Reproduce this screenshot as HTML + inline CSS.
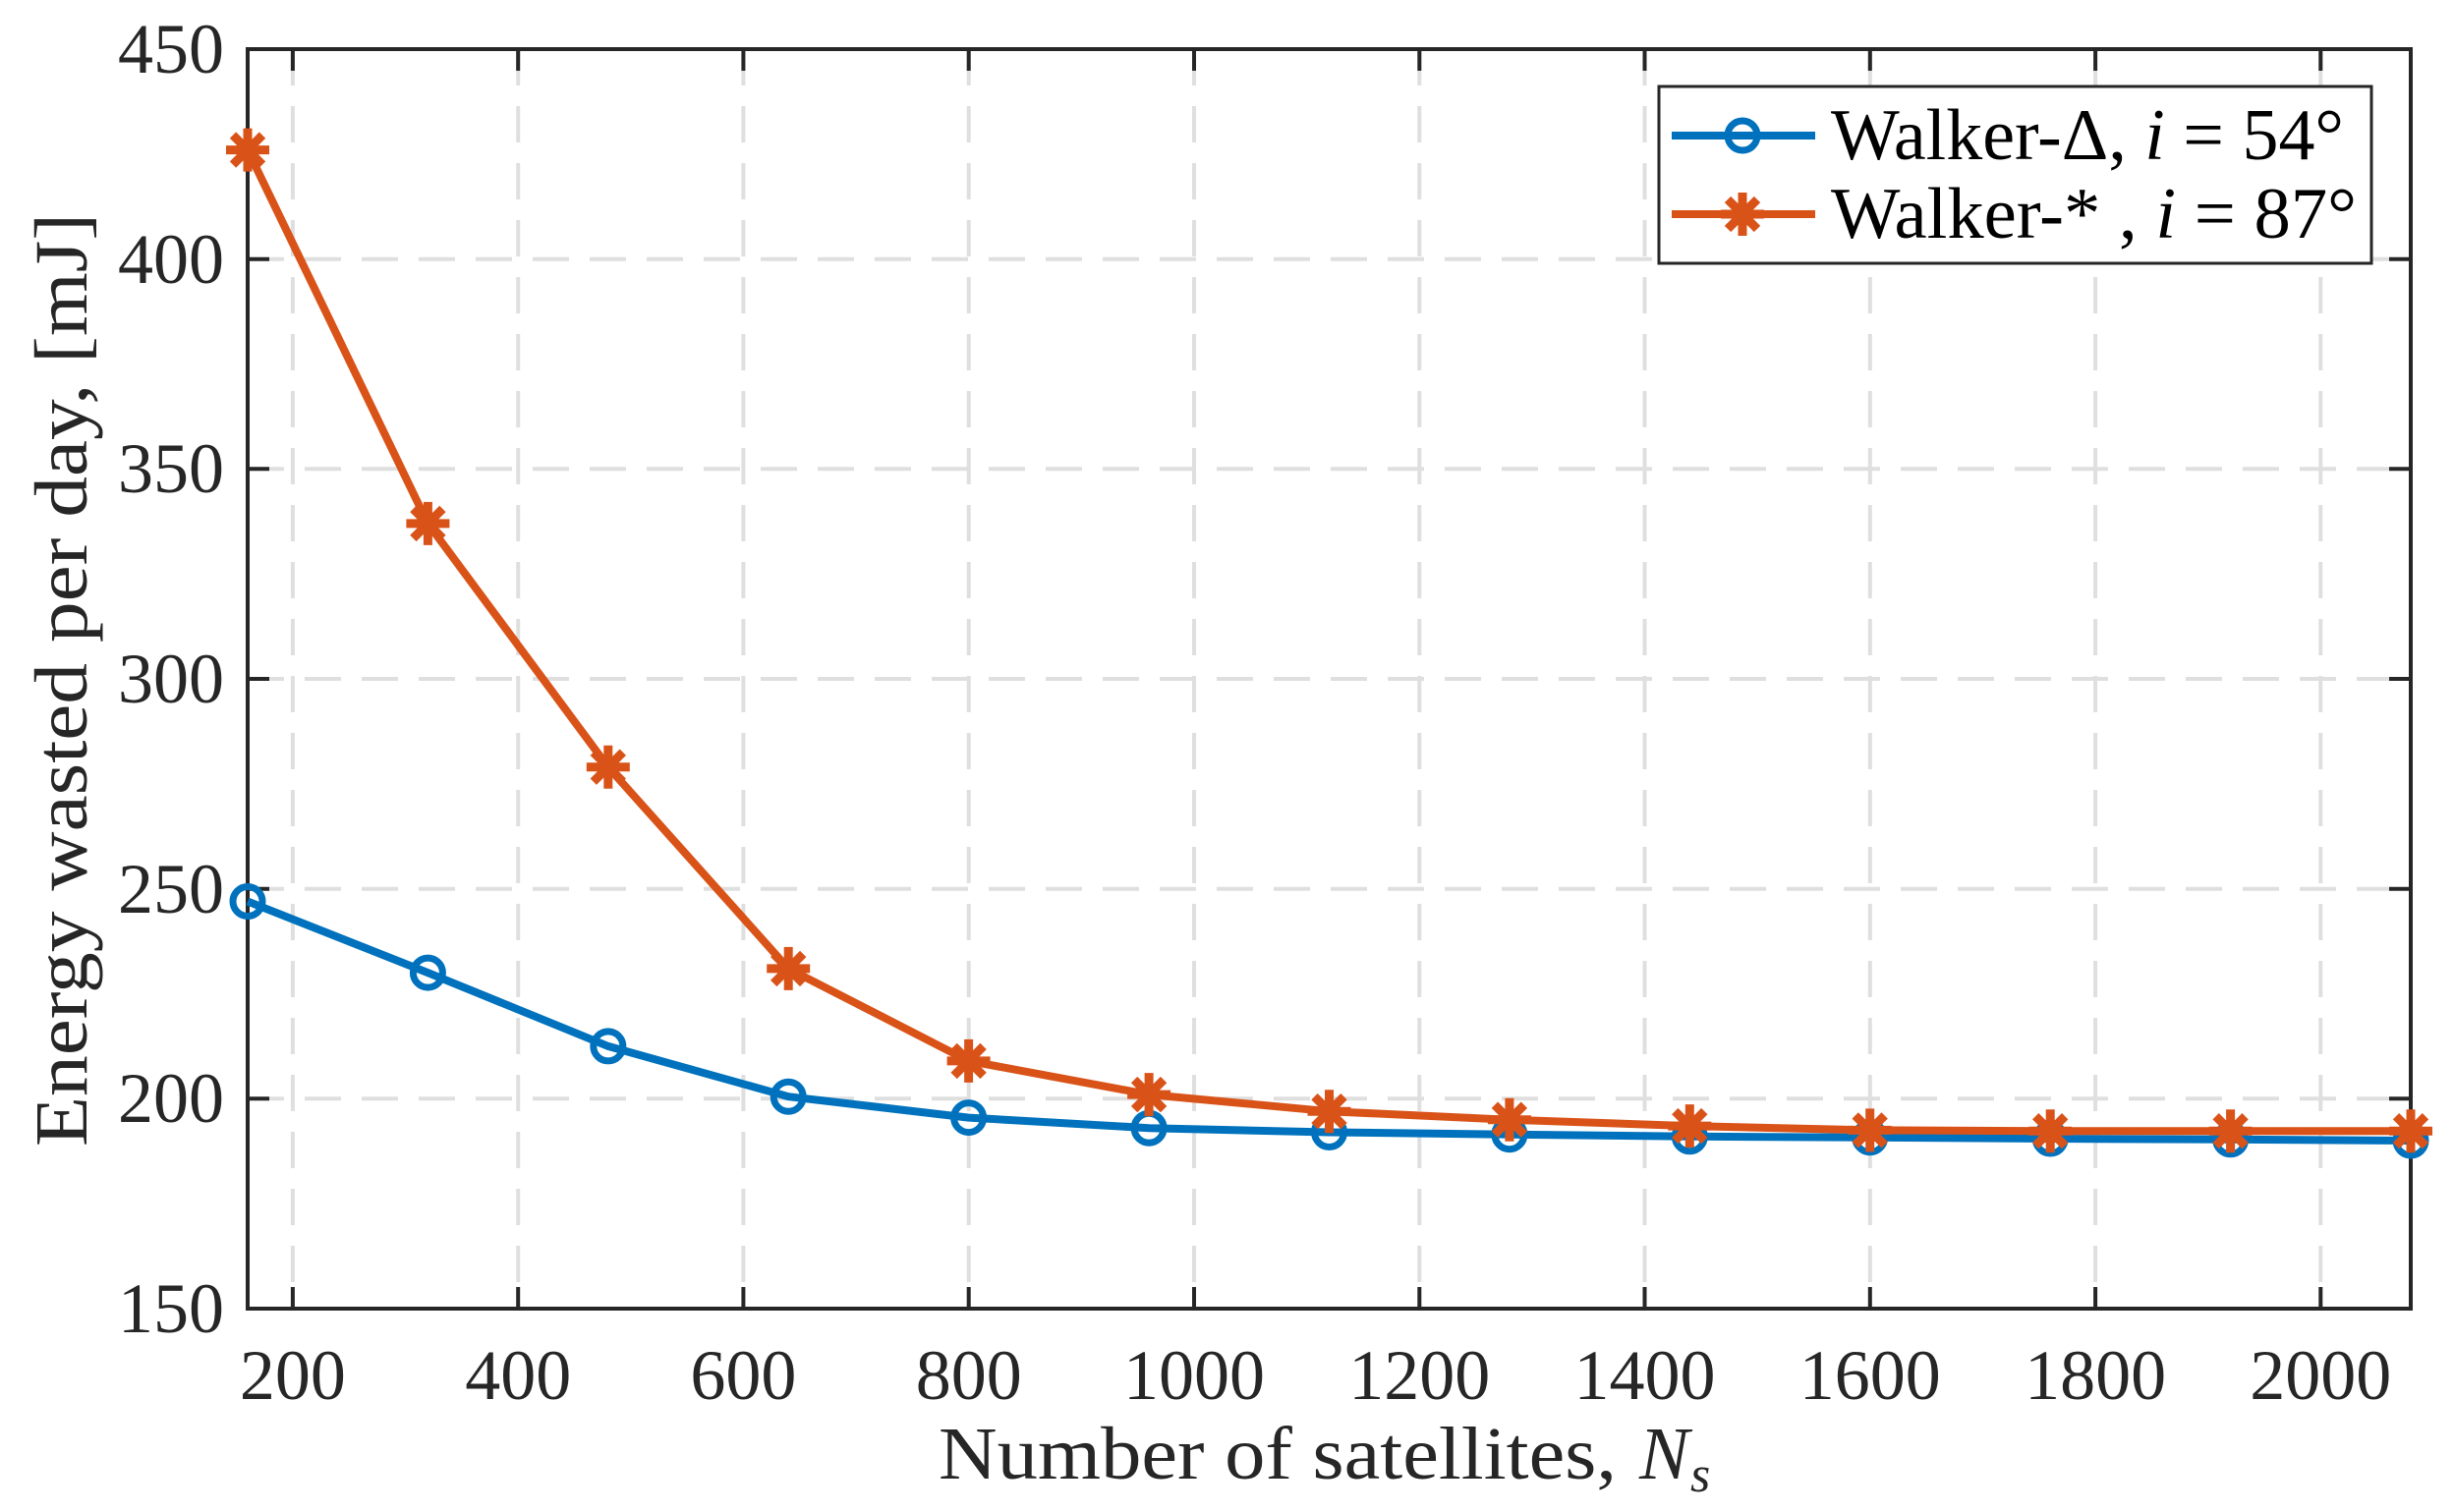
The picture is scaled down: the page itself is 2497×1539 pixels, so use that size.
<!DOCTYPE html>
<html><head><meta charset="utf-8"><style>html,body{margin:0;padding:0;background:#fff}svg{display:block}</style></head>
<body>
<svg width="2497" height="1539" viewBox="0 0 2497 1539" xmlns="http://www.w3.org/2000/svg" font-family="Liberation Serif, serif" fill="#262626">
<rect width="2497" height="1539" fill="#fff"/>
<g stroke="#dfdfdf" stroke-width="4" stroke-dasharray="37 21">
<line x1="297.9" y1="50" x2="297.9" y2="1332"/><line x1="527.2" y1="50" x2="527.2" y2="1332"/><line x1="756.4" y1="50" x2="756.4" y2="1332"/><line x1="985.7" y1="50" x2="985.7" y2="1332"/><line x1="1215" y1="50" x2="1215" y2="1332"/><line x1="1444.3" y1="50" x2="1444.3" y2="1332"/><line x1="1673.5" y1="50" x2="1673.5" y2="1332"/><line x1="1902.8" y1="50" x2="1902.8" y2="1332"/><line x1="2132.1" y1="50" x2="2132.1" y2="1332"/><line x1="2361.3" y1="50" x2="2361.3" y2="1332"/>
<line x1="252" y1="1118.3" x2="2453" y2="1118.3"/><line x1="252" y1="904.7" x2="2453" y2="904.7"/><line x1="252" y1="691" x2="2453" y2="691"/><line x1="252" y1="477.3" x2="2453" y2="477.3"/><line x1="252" y1="263.7" x2="2453" y2="263.7"/>
</g>
<g stroke="#262626" stroke-width="4">
<path d="M297.9,1332v-22M527.2,1332v-22M756.4,1332v-22M985.7,1332v-22M1215,1332v-22M1444.3,1332v-22M1673.5,1332v-22M1902.8,1332v-22M2132.1,1332v-22M2361.3,1332v-22"/>
<path d="M297.9,50v22M527.2,50v22M756.4,50v22M985.7,50v22M1215,50v22M1444.3,50v22M1673.5,50v22M1902.8,50v22M2132.1,50v22M2361.3,50v22"/>
<path d="M252,1118.3h22M252,904.7h22M252,691h22M252,477.3h22M252,263.7h22"/>
<path d="M2453,1118.3h-22M2453,904.7h-22M2453,691h-22M2453,477.3h-22M2453,263.7h-22"/>
<rect x="252" y="50" width="2201" height="1282" fill="none"/>
</g>
<g font-size="72" text-anchor="end">
<text x="228" y="1356">150</text><text x="228" y="1142">200</text><text x="228" y="929">250</text><text x="228" y="715">300</text><text x="228" y="501">350</text><text x="228" y="288">400</text><text x="228" y="74">450</text>
</g>
<g font-size="72" text-anchor="middle">
<text x="297.9" y="1424">200</text><text x="527.2" y="1424">400</text><text x="756.4" y="1424">600</text><text x="985.7" y="1424">800</text><text x="1215" y="1424">1000</text><text x="1444.3" y="1424">1200</text><text x="1673.5" y="1424">1400</text><text x="1902.8" y="1424">1600</text><text x="2132.1" y="1424">1800</text><text x="2361.3" y="1424">2000</text>
</g>
<text x="955" y="1505" font-size="76" textLength="690" lengthAdjust="spacingAndGlyphs">Number of satellites,</text>
<text x="1668" y="1505" font-size="76" font-style="italic">N</text><text x="1720" y="1518" font-size="52" font-style="italic">s</text>
<text transform="translate(88,692) rotate(-90)" font-size="76" text-anchor="middle" textLength="950" lengthAdjust="spacingAndGlyphs">Energy wasted per day, [mJ]</text>
<polyline fill="none" stroke="#0072bd" stroke-width="8" stroke-linejoin="round" points="252,917.5 435.4,990.1 618.8,1064.9 802.2,1116.2 985.6,1137.6 1169.1,1148.2 1352.5,1152.5 1535.9,1154.7 1719.3,1156.8 1902.7,1157.7 2086.2,1159 2269.6,1159.8 2453,1161"/>
<g fill="none" stroke="#0072bd" stroke-width="7">
<circle cx="252" cy="917.5" r="15"/><circle cx="435.4" cy="990.1" r="15"/><circle cx="618.8" cy="1064.9" r="15"/><circle cx="802.2" cy="1116.2" r="15"/><circle cx="985.6" cy="1137.6" r="15"/><circle cx="1169.1" cy="1148.2" r="15"/><circle cx="1352.5" cy="1152.5" r="15"/><circle cx="1535.9" cy="1154.7" r="15"/><circle cx="1719.3" cy="1156.8" r="15"/><circle cx="1902.7" cy="1157.7" r="15"/><circle cx="2086.2" cy="1159" r="15"/><circle cx="2269.6" cy="1159.8" r="15"/><circle cx="2453" cy="1161" r="15"/>
</g>
<polyline fill="none" stroke="#d95319" stroke-width="8" stroke-linejoin="round" points="252,152.6 435.4,532.9 618.8,780.7 802.2,985.9 985.6,1079.9 1169.1,1114.1 1352.5,1131.2 1535.9,1139.7 1719.3,1146.1 1902.7,1150.4 2086.2,1151.2 2269.6,1151.2 2453,1151.2"/>
<defs><g id="ast" stroke="#d95319" stroke-width="9"><path d="M-22,0H22M0,-22V22M-15,-15L15,15M-15,15L15,-15"/></g></defs>
<use href="#ast" x="252" y="152.6"/><use href="#ast" x="435.4" y="532.9"/><use href="#ast" x="618.8" y="780.7"/><use href="#ast" x="802.2" y="985.9"/><use href="#ast" x="985.6" y="1079.9"/><use href="#ast" x="1169.1" y="1114.1"/><use href="#ast" x="1352.5" y="1131.2"/><use href="#ast" x="1535.9" y="1139.7"/><use href="#ast" x="1719.3" y="1146.1"/><use href="#ast" x="1902.7" y="1150.4"/><use href="#ast" x="2086.2" y="1151.2"/><use href="#ast" x="2269.6" y="1151.2"/><use href="#ast" x="2453" y="1151.2"/>
<rect x="1688" y="88" width="725" height="180" fill="#fff" stroke="#262626" stroke-width="3"/>
<line x1="1701" y1="138" x2="1847" y2="138" stroke="#0072bd" stroke-width="8"/>
<circle cx="1773" cy="138" r="15" fill="none" stroke="#0072bd" stroke-width="7"/>
<line x1="1701" y1="218" x2="1847" y2="218" stroke="#d95319" stroke-width="8"/>
<use href="#ast" x="1773" y="218"/>
<text x="1863" y="162" font-size="74" fill="#000" textLength="522" lengthAdjust="spacingAndGlyphs">Walker-Δ, <tspan font-style="italic">i</tspan> = 54°</text>
<text x="1863" y="242" font-size="74" fill="#000" textLength="535" lengthAdjust="spacingAndGlyphs">Walker-* , <tspan font-style="italic">i</tspan> = 87°</text>
</svg>
</body></html>
